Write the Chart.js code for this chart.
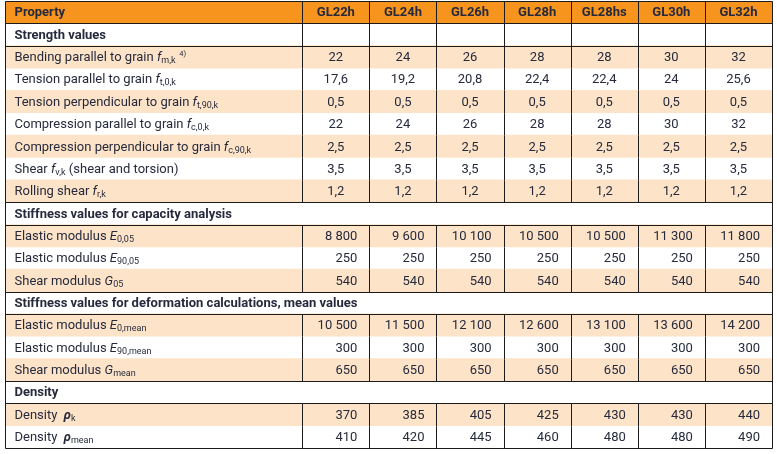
<!DOCTYPE html>
<html>
<head>
<meta charset="utf-8">
<script src="https://cdn.jsdelivr.net/npm/chart.js@4/dist/chart.umd.min.js"></script>
<style>
  html, body { margin: 0; padding: 0; background: #ffffff; }
  canvas { display: block; }
</style>
</head>
<body>
<canvas id="proptable" width="777" height="454"></canvas>
<script>
// glulam grades (column headers)
var grades = ['GL22h', 'GL24h', 'GL26h', 'GL28h', 'GL28hs', 'GL30h', 'GL32h'];

// strength values
var bendingMk = [22, 24, 26, 28, 28, 30, 32];
var tensionT0k = [17.6, 19.2, 20.8, 22.4, 22.4, 24, 25.6];
var tensionT90k = [0.5, 0.5, 0.5, 0.5, 0.5, 0.5, 0.5];
var compressionC0k = [22, 24, 26, 28, 28, 30, 32];
var compressionC90k = [2.5, 2.5, 2.5, 2.5, 2.5, 2.5, 2.5];
var shearVk = [3.5, 3.5, 3.5, 3.5, 3.5, 3.5, 3.5];
var rollingShearRk = [1.2, 1.2, 1.2, 1.2, 1.2, 1.2, 1.2];

// stiffness values for capacity analysis
var elasticE005 = [8800, 9600, 10100, 10500, 10500, 11300, 11800];
var elasticE9005 = [250, 250, 250, 250, 250, 250, 250];
var shearG05 = [540, 540, 540, 540, 540, 540, 540];

// stiffness values for deformation calculations, mean values
var elasticE0mean = [10500, 11500, 12100, 12600, 13100, 13600, 14200];
var elasticE90mean = [300, 300, 300, 300, 300, 300, 300];
var shearGmean = [650, 650, 650, 650, 650, 650, 650];

// density
var densityK = [370, 385, 405, 425, 430, 430, 440];
var densityMean = [410, 420, 445, 460, 480, 480, 490];

// row layout: header, section titles and data rows
var rows = [
    { kind: 'header', label: [['b', 'Property']] },
    { kind: 'section', label: [['b', 'Strength values']], grid: true },
    { label: [['n', 'Bending parallel to grain '], ['i', 'f'], ['sub', 'm,k'], ['sup', '  4)']], values: bendingMk, align: 'center', shade: true },
    { label: [['n', 'Tension parallel to grain '], ['i', 'f'], ['sub', 't,0,k']], values: tensionT0k, align: 'center' },
    { label: [['n', 'Tension perpendicular to grain '], ['i', 'f'], ['sub', 't,90,k']], values: tensionT90k, align: 'center', shade: true },
    { label: [['n', 'Compression parallel to grain '], ['i', 'f'], ['sub', 'c,0,k']], values: compressionC0k, align: 'center' },
    { label: [['n', 'Compression perpendicular to grain '], ['i', 'f'], ['sub', 'c,90,k']], values: compressionC90k, align: 'center', shade: true },
    { label: [['n', 'Shear '], ['i', 'f'], ['sub', 'v,k'], ['n', ' (shear and torsion)']], values: shearVk, align: 'center' },
    { label: [['n', 'Rolling shear '], ['i', 'f'], ['sub', 'r,k']], values: rollingShearRk, align: 'center', shade: true },
    { kind: 'section', label: [['b', 'Stiffness values for capacity analysis']] },
    { label: [['n', 'Elastic modulus '], ['i', 'E'], ['sub', '0,05']], values: elasticE005, align: 'right', shade: true },
    { label: [['n', 'Elastic modulus '], ['i', 'E'], ['sub', '90,05']], values: elasticE9005, align: 'right' },
    { label: [['n', 'Shear modulus '], ['i', 'G'], ['sub', '05']], values: shearG05, align: 'right', shade: true },
    { kind: 'section', label: [['b', 'Stiffness values for deformation calculations, mean values']] },
    { label: [['n', 'Elastic modulus '], ['i', 'E'], ['sub', '0,mean']], values: elasticE0mean, align: 'right', shade: true },
    { label: [['n', 'Elastic modulus '], ['i', 'E'], ['sub', '90,mean']], values: elasticE90mean, align: 'right' },
    { label: [['n', 'Shear modulus '], ['i', 'G'], ['sub', 'mean']], values: shearGmean, align: 'right', shade: true },
    { kind: 'section', label: [['b', 'Density']] },
    { label: [['n', 'Density  '], ['bi', 'ρ'], ['sub', 'k']], values: densityK, align: 'right', shade: true },
    { label: [['n', 'Density  '], ['bi', 'ρ'], ['sub', 'mean']], values: densityMean, align: 'right' }
];

// column edges in column units (first column is the wide property column)
var colEdges = [0, 4.43, 5.43, 6.43, 7.43, 8.43, 9.43, 10.43, 11.43];
var tableEnd = colEdges[colEdges.length - 1];

var FONT = 'Roboto, "Open Sans", sans-serif';
var TEXT = '#262a3c';
var LINE = '#1b1b1b';

function fmt(v) {
    var s = String(v).replace('.', ',');
    return s.replace(/\B(?=(\d{3})+(?!\d))/g, ' ');
}

function segFont(kind) {
    if (kind === 'b') return 'bold 13px ' + FONT;
    if (kind === 'i') return 'italic 13px ' + FONT;
    if (kind === 'bi') return 'bold italic 13px ' + FONT;
    if (kind === 'sub') return '9px ' + FONT;
    if (kind === 'sup') return '7.5px ' + FONT;
    return '13px ' + FONT;
}

function drawRich(ctx, segs, x, y) {
    ctx.textAlign = 'left';
    ctx.textBaseline = 'middle';
    segs.forEach(function (s) {
        ctx.font = segFont(s[0]);
        var dy = s[0] === 'sub' ? 3 : (s[0] === 'sup' ? -4 : 0);
        ctx.fillText(s[1], x, y + dy);
        x += ctx.measureText(s[1]).width;
    });
}

var tablePlugin = {
    id: 'tablePlugin',
    afterDatasetsDraw: function (chart) {
        var ctx = chart.ctx;
        var xs = chart.scales.x, ys = chart.scales.y;
        var band = ys.getPixelForValue(1) - ys.getPixelForValue(0);
        var left = Math.round(xs.getPixelForValue(0)) + 0.5;
        var right = Math.round(xs.getPixelForValue(tableEnd)) + 0.5;
        var rowTop = function (i) { return ys.getPixelForValue(i) - band / 2; };

        ctx.save();
        // text
        ctx.fillStyle = TEXT;
        rows.forEach(function (r, i) {
            var y = ys.getPixelForValue(i) + 1;
            drawRich(ctx, r.label, left + 9, y);
            if (r.kind === 'header') {
                ctx.font = 'bold 13px ' + FONT;
                ctx.textAlign = 'center';
                grades.forEach(function (g, c) {
                    ctx.fillText(g, xs.getPixelForValue((colEdges[c + 1] + colEdges[c + 2]) / 2), y);
                });
            }
            if (r.values) {
                ctx.font = '13px ' + FONT;
                r.values.forEach(function (v, c) {
                    if (r.align === 'center') {
                        ctx.textAlign = 'center';
                        ctx.fillText(fmt(v), xs.getPixelForValue((colEdges[c + 1] + colEdges[c + 2]) / 2), y);
                    } else {
                        ctx.textAlign = 'right';
                        ctx.fillText(fmt(v), xs.getPixelForValue(colEdges[c + 2]) - 12, y);
                    }
                });
            }
        });

        // grid lines
        ctx.strokeStyle = LINE;
        ctx.lineWidth = 1;
        ctx.beginPath();
        rows.forEach(function (r, i) {
            var t = Math.round(rowTop(i)) + 0.5;
            var b = Math.round(rowTop(i + 1)) + 0.5;
            if (r.kind) {
                ctx.moveTo(left, t); ctx.lineTo(right, t);
                ctx.moveTo(left, b); ctx.lineTo(right, b);
            }
            if (r.kind !== 'section' || r.grid) {
                for (var c = 1; c < colEdges.length - 1; c++) {
                    var x = Math.round(xs.getPixelForValue(colEdges[c])) + 0.5;
                    ctx.moveTo(x, t); ctx.lineTo(x, b);
                }
            }
        });
        var top = Math.round(rowTop(0)) + 0.5;
        var bottom = Math.round(rowTop(rows.length)) + 0.5;
        ctx.moveTo(left, top); ctx.lineTo(left, bottom);
        ctx.moveTo(right, top); ctx.lineTo(right, bottom);
        ctx.moveTo(left, bottom); ctx.lineTo(right, bottom);
        ctx.stroke();
        ctx.restore();
    }
};

function initPropertyTable() {
    var ctx = document.getElementById('proptable').getContext('2d');
    var chart = new Chart(ctx, {
        type: 'bar',
        data: {
            labels: rows.map(function (r, i) { return 'row' + i; }),
            datasets: [{
                // header fill
                data: rows.map(function (r) { return r.kind === 'header' ? [0, tableEnd] : null; }),
                backgroundColor: '#f7941e'
            }, {
                // alternating row shading
                data: rows.map(function (r) { return r.shade ? [0, tableEnd] : null; }),
                backgroundColor: '#fde4c9'
            }]
        },
        plugins: [tablePlugin],
        options: {
            indexAxis: 'y',
            responsive: false,
            animation: false,
            devicePixelRatio: 1,
            layout: { padding: { left: 5, right: 5, top: 1, bottom: 6 } },
            datasets: {
                bar: { grouped: false, barPercentage: 1, categoryPercentage: 1, borderWidth: 0 }
            },
            scales: {
                x: { type: 'linear', min: 0, max: tableEnd, display: false },
                y: { type: 'category', display: false }
            },
            plugins: {
                legend: { display: false },
                tooltip: { enabled: false }
            }
        }
    });
}

initPropertyTable();
</script>
</body>
</html>
